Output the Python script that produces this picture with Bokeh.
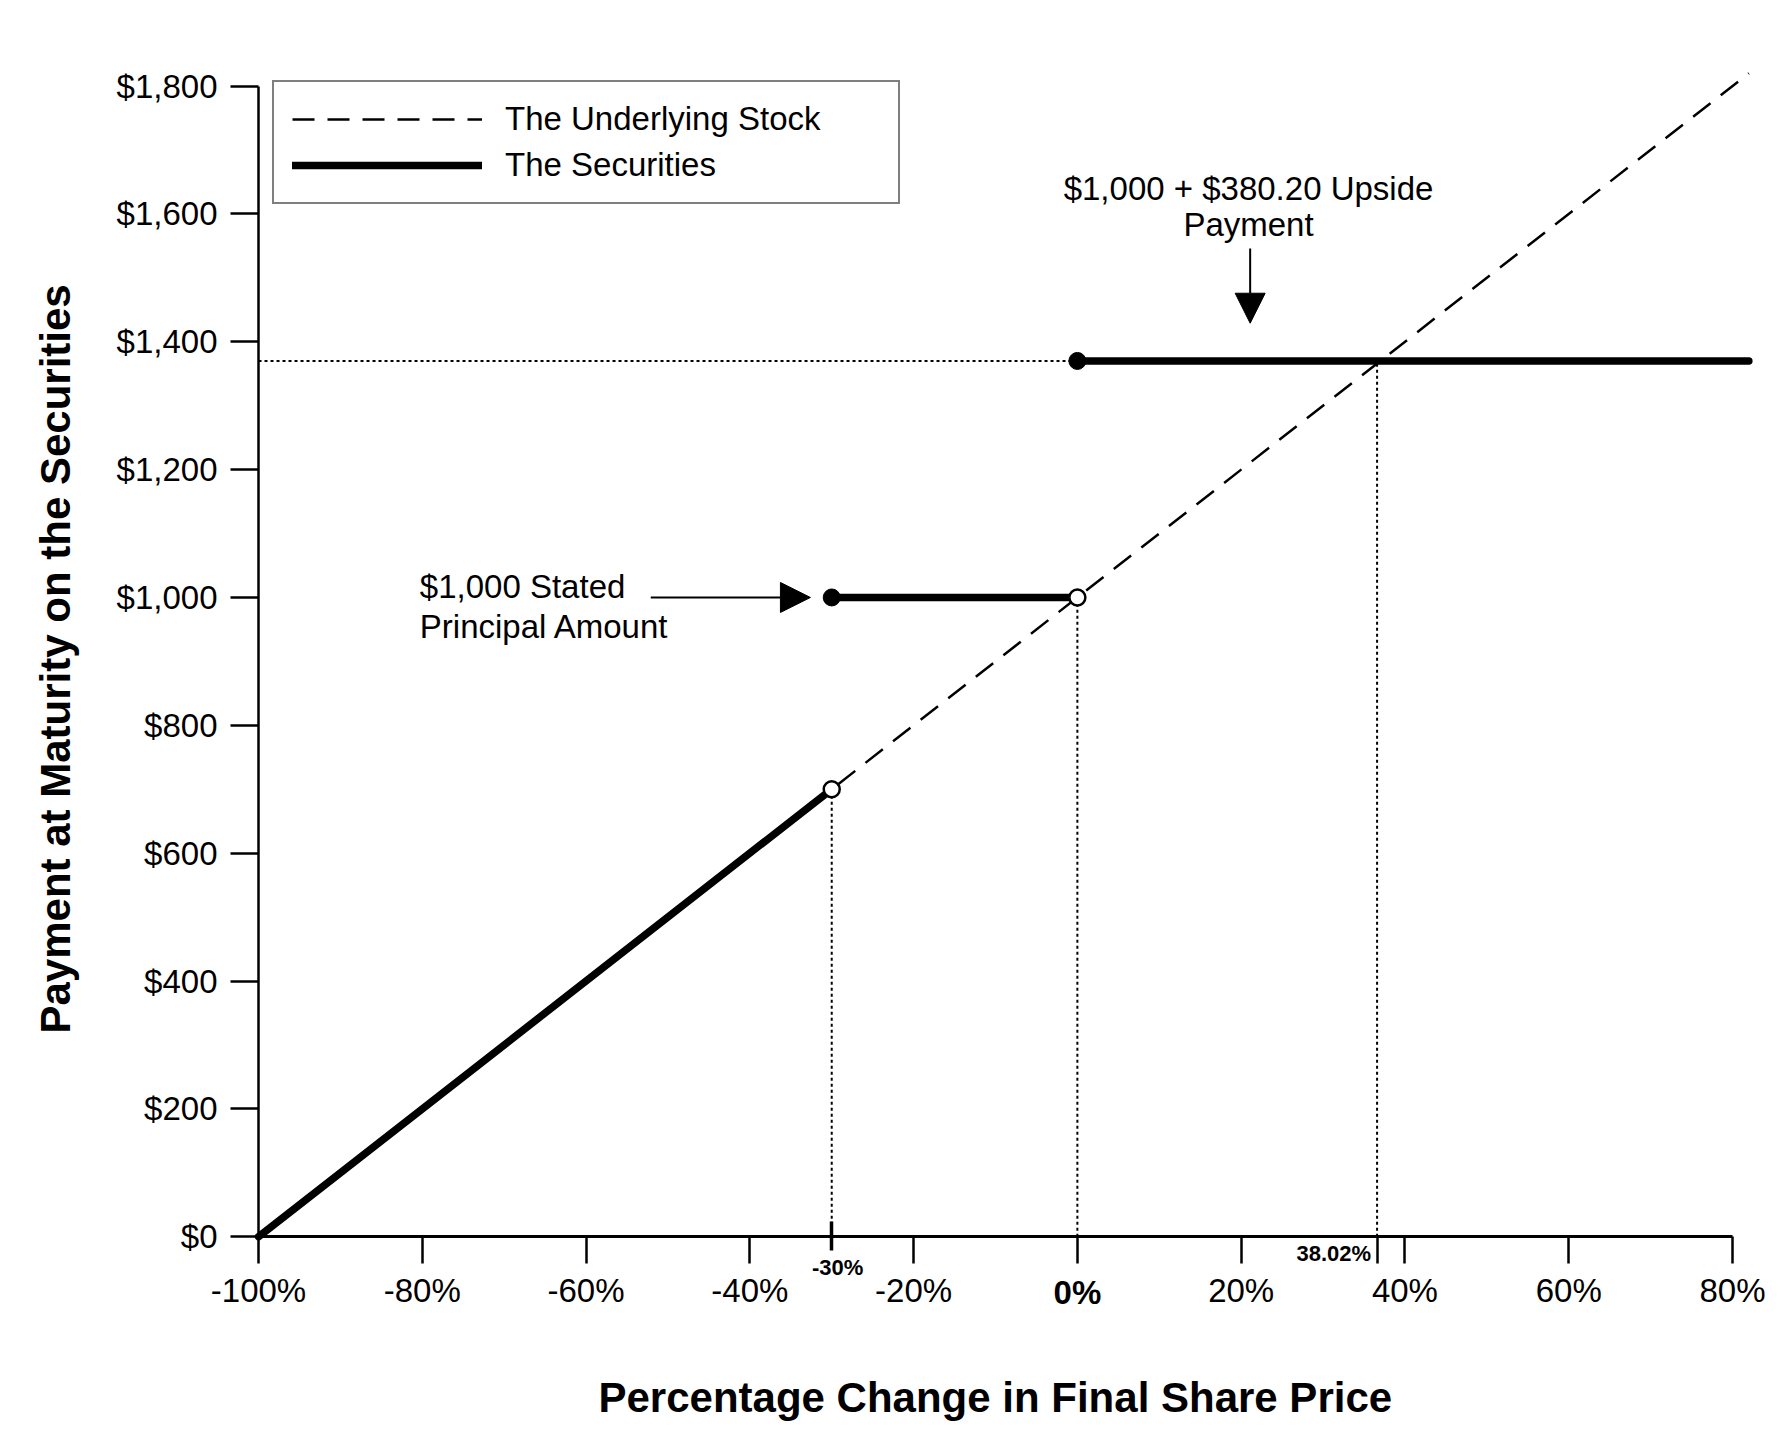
from bokeh.plotting import figure
from bokeh.models import (FixedTicker, Legend, LegendItem, Label, Arrow, NormalHead, Range1d, LinearAxis, Title)
from bokeh.embed import file_html
from bokeh.resources import INLINE

# ---- data ----
x_ticks = [-100, -80, -60, -40, -20, 0, 20, 40, 60, 80]
x_tick_labels = ["-100%", "-80%", "-60%", "-40%", "-20%", "0%", "20%", "40%", "60%", "80%"]
y_ticks = [0, 200, 400, 600, 800, 1000, 1200, 1400, 1600, 1800]
y_tick_labels = ["$0", "$200", "$400", "$600", "$800", "$1,000", "$1,200", "$1,400", "$1,600", "$1,800"]

stock_x = [-100, 82]
stock_y = [0, 1820]

sec_low_x = [-100, -30]
sec_low_y = [0, 700]
sec_mid_x = [-30, 0]
sec_mid_y = [1000, 1000]
sec_high_x = [0, 82]
sec_high_y = [1370, 1370]

closed_x = [-30, 0]
closed_y = [1000, 1370]
open_x = [-30, 0]
open_y = [700, 1000]

guide_v_x = [-30, 0, 36.6]
guide_v_top = [700, 1000, 1370]
guide_h_x = [-100, 0]
guide_h_y = [1370, 1370]

barrier_pct = -30
breakeven_pct = 36.6

FONT = "Liberation Sans"

p = figure(width=1775, height=1431, output_backend="svg", toolbar_location=None,
           x_range=Range1d(-117.71, 84.4), y_range=Range1d(-117, 1840),
           min_border_left=113, min_border_right=7, min_border_top=60, min_border_bottom=120)
p.outline_line_color = None
p.grid.visible = False
p.background_fill_color = "white"
p.border_fill_color = "white"

# ---- guides ----
for gx, gt in zip(guide_v_x, guide_v_top):
    p.line([gx, gx], [0, gt], line_color="black", line_width=2, line_dash="3 3")
p.line(guide_h_x, guide_h_y, line_color="black", line_width=2, line_dash="3 3")

# ---- series ----
r_stock = p.line(stock_x, stock_y, line_color="black", line_width=2.5, line_dash="22 13")
r_sec = p.line(sec_low_x, sec_low_y, line_color="black", line_width=7.5, line_cap="round")
p.line(sec_mid_x, sec_mid_y, line_color="black", line_width=7.5, line_cap="round")
p.line(sec_high_x, sec_high_y, line_color="black", line_width=7.5, line_cap="round")
p.scatter(closed_x, closed_y, size=17, fill_color="black", line_color="black")
p.scatter(open_x, open_y, size=16, fill_color="white", line_color="black", line_width=2.5)

# ---- axes (drawn at the data origin) ----
xa = p.xaxis[0]
xa.fixed_location = 0
xa.ticker = FixedTicker(ticks=x_ticks + [breakeven_pct], minor_ticks=[barrier_pct])
ov = {t: l for t, l in zip(x_ticks, x_tick_labels)}
ov[0] = ""
ov[breakeven_pct] = ""
xa.major_label_overrides = ov
xa.bounds = (-100, 80)
xa.axis_line_width = 3
xa.axis_line_color = "black"
xa.major_tick_line_width = 2.5
xa.major_tick_line_color = "black"
xa.major_tick_out = 27
xa.major_tick_in = 0
xa.minor_tick_line_width = 3.5
xa.minor_tick_line_color = "black"
xa.minor_tick_out = 14
xa.minor_tick_in = 15
xa.major_label_standoff = 8
xa.major_label_text_font = FONT
xa.major_label_text_font_size = "33px"
xa.major_label_text_color = "black"

ya = p.yaxis[0]
ya.fixed_location = -100
ya.ticker = FixedTicker(ticks=y_ticks, minor_ticks=[])
ya.major_label_overrides = {t: l for t, l in zip(y_ticks, y_tick_labels)}
ya.bounds = (0, 1800)
ya.axis_line_width = 2.5
ya.axis_line_color = "black"
ya.major_tick_line_width = 2.5
ya.major_tick_line_color = "black"
ya.major_tick_out = 28
ya.major_tick_in = 0
ya.major_label_standoff = 13
ya.major_label_text_font = FONT
ya.major_label_text_font_size = "33px"
ya.major_label_text_color = "black"

# ---- invisible spacer axes on the outer panels, then the axis titles ----
xs = LinearAxis(ticker=FixedTicker(ticks=[x_ticks[0]], minor_ticks=[]), axis_line_color=None,
                major_tick_line_color=None, minor_tick_line_color=None, major_tick_out=56,
                major_label_standoff=0, major_label_overrides={x_ticks[0]: ""},
                major_label_text_font_size="1px")
p.add_layout(xs, "below")
ys = LinearAxis(ticker=FixedTicker(ticks=[y_ticks[0]], minor_ticks=[]), axis_line_color=None,
                major_tick_line_color=None, minor_tick_line_color=None, major_tick_out=29,
                major_label_standoff=0, major_label_overrides={y_ticks[0]: ""},
                major_label_text_font_size="1px")
p.add_layout(ys, "left")

p.add_layout(Title(text="Percentage Change in Final Share Price", align="left", offset=485,
                   vertical_align="middle", standoff=10, text_font=FONT, text_font_style="bold",
                   text_font_size="42px", text_color="black"), "below")
p.add_layout(Title(text="Payment at Maturity on the Securities", align="left", offset=278,
                   vertical_align="middle", standoff=10, text_font=FONT, text_font_style="bold",
                   text_font_size="42px", text_color="black"), "left")

# ---- special tick labels ----
p.add_layout(Label(x=0, y=0, y_offset=-56, text="0%", text_font=FONT, text_font_size="33px",
                   text_font_style="bold", text_align="center", text_baseline="middle", text_color="black"))
p.add_layout(Label(x=barrier_pct, y=0, x_offset=6, y_offset=-31, text="-30%", text_font=FONT,
                   text_font_size="22px", text_font_style="bold", text_align="center",
                   text_baseline="middle", text_color="black"))
p.add_layout(Label(x=breakeven_pct, y=0, x_offset=-6, y_offset=-17, text="38.02%", text_font=FONT,
                   text_font_size="22px", text_font_style="bold", text_align="right",
                   text_baseline="middle", text_color="black"))

# ---- annotations ----
p.add_layout(Label(x=20.9, y=1640, text="$1,000 + $380.20 Upside", text_font=FONT, text_font_size="33px",
                   text_align="center", text_baseline="middle", text_color="black"))
p.add_layout(Label(x=20.9, y=1584, text="Payment", text_font=FONT, text_font_size="33px",
                   text_align="center", text_baseline="middle", text_color="black"))
p.add_layout(Arrow(x_start=21.1, y_start=1546, x_end=21.1, y_end=1429, line_width=2, line_color="black",
                   end=NormalHead(size=30, fill_color="black", line_color="black")))

p.add_layout(Label(x=-80.3, y=1017, text="$1,000 Stated", text_font=FONT, text_font_size="33px",
                   text_align="left", text_baseline="middle", text_color="black"))
p.add_layout(Label(x=-80.3, y=955, text="Principal Amount", text_font=FONT, text_font_size="33px",
                   text_align="left", text_baseline="middle", text_color="black"))
p.add_layout(Arrow(x_start=-52.1, y_start=1000, x_end=-32.6, y_end=1000, line_width=2, line_color="black",
                   end=NormalHead(size=30, fill_color="black", line_color="black")))

# ---- legend ----
legend = Legend(items=[LegendItem(label="The Underlying Stock", renderers=[r_stock]),
                       LegendItem(label="The Securities", renderers=[r_sec])],
                location=(159, 1107), padding=18, spacing=8, glyph_width=190, glyph_height=38,
                label_height=38, label_standoff=23, label_width=375,
                label_text_font=FONT, label_text_font_size="33px", label_text_color="black",
                border_line_color="black", border_line_width=2, background_fill_color="white",
                background_fill_alpha=1.0, margin=0)
p.add_layout(legend)

open("out.html", "w").write(file_html(p, INLINE))
